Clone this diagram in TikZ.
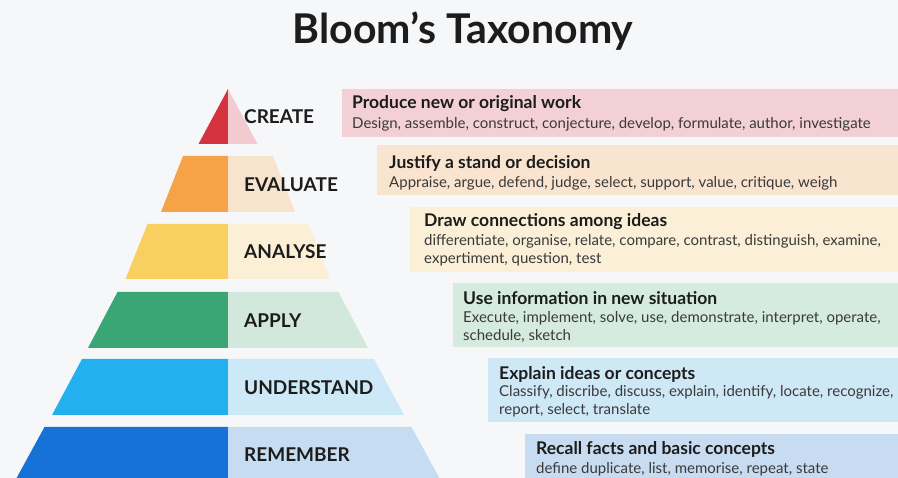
\documentclass[tikz,border=0pt]{standalone}
\usepackage{fontspec}
\setmainfont{Lato}
\definecolor{bg}{HTML}{F6F7F9}
\definecolor{txt}{HTML}{1C1C1C}
\definecolor{bodytxt}{HTML}{3A3A3A}
\definecolor{createD}{HTML}{D63341}\definecolor{createL}{HTML}{F2CBD1}
\definecolor{evalD}{HTML}{F6A347}\definecolor{evalL}{HTML}{F8E3CF}
\definecolor{anaD}{HTML}{F9CF5F}\definecolor{anaL}{HTML}{FBEFD6}
\definecolor{appD}{HTML}{3AA673}\definecolor{appL}{HTML}{D2E8DC}
\definecolor{undD}{HTML}{22B1EE}\definecolor{undL}{HTML}{CDE8F7}
\definecolor{remD}{HTML}{1772D7}\definecolor{remL}{HTML}{C6DCF1}
\definecolor{boxA}{HTML}{F2D0D5}\definecolor{boxB}{HTML}{F9E4CF}
\definecolor{boxC}{HTML}{FBEFD7}\definecolor{boxD}{HTML}{D5EBDF}
\definecolor{boxE}{HTML}{CFE8F6}\definecolor{boxF}{HTML}{C8DCF1}
\begin{document}
\begin{tikzpicture}[x=1pt,y=-1pt,
  level/.style={anchor=west,inner sep=0pt,text=txt,font=\fontsize{19}{22}\selectfont\bfseries},
  desc/.style={anchor=north west,inner sep=0pt,minimum height=#1,minimum width=600pt},
  head/.style={anchor=west,inner sep=0pt,text=txt,font=\fontsize{17.5}{20}\selectfont\bfseries},
  body/.style={anchor=north west,inner sep=0pt,text=bodytxt,align=left,font=\fontsize{15}{17.5}\selectfont}]
\fill[bg] (0,0) rectangle (898,478);
\useasboundingbox (0,0) rectangle (898,478);
\begin{scope}
\clip (0,0) rectangle (898,478);
% pyramid bands: #1 top y, #2 bottom y, #3 top half width, #4 bottom half width
\newcommand{\band}[6]{%
  \fill[#5] (228-#3,#1) -- (228,#1) -- (228,#2) -- (228-#4,#2) -- cycle;
  \fill[#6] (228,#1) -- (228+#3,#1) -- (228+#4,#2) -- (228,#2) -- cycle;}
\band{89}{144}{0}{29.5}{createD}{createL}
\band{156}{212}{45}{67}{evalD}{evalL}
\band{224}{279}{80.5}{102.5}{anaD}{anaL}
\band{292}{348}{110.5}{140}{appD}{appL}
\band{359}{415}{146}{176}{undD}{undL}
\band{427}{490}{183.5}{218}{remD}{remL}
% description boxes
\node[desc=48pt,fill=boxA] (bA) at (342,89) {};
\node[desc=50pt,fill=boxB] (bB) at (377,145) {};
\node[desc=65pt,fill=boxC] (bC) at (410,207) {};
\node[desc=64pt,fill=boxD] (bD) at (453,283) {};
\node[desc=64pt,fill=boxE] (bE) at (488,358) {};
\node[desc=60pt,fill=boxF] (bF) at (525,434) {};
\end{scope}
% title
\node[inner sep=0pt,text=txt,font=\fontsize{41}{46}\selectfont\bfseries] (title) at (463,31) {Bloom’s Taxonomy};
% level labels
\node[level] (lA) at (244,117) {CREATE};
\node[level] (lB) at (244,185) {EVALUATE};
\node[level] (lC) at (244,252) {ANALYSE};
\node[level] (lD) at (244,321) {APPLY};
\node[level] (lE) at (244,388) {UNDERSTAND};
\node[level] (lF) at (244,455) {REMEMBER};
% box texts
\node[head] (hA) at (352,104) {Produce new or original work};
\node[body] (tA) at (352,117.5) {Design, assemble, construct, conjecture, develop, formulate, author, investigate};
\node[head] (hB) at (389,163) {Justify a stand or decision};
\node[body] (tB) at (389,176.5) {Appraise, argue, defend, judge, select, support, value, critique, weigh};
\node[head] (hC) at (424,222) {Draw connections among ideas};
\node[body] (tC) at (424,234.5) {differentiate, organise, relate, compare, contrast, distinguish, examine,\\expertiment, question, test};
\node[head] (hD) at (463,298) {Use information in new situation};
\node[body] (tD) at (463,311.5) {Execute, implement, solve, use, demonstrate, interpret, operate,\\schedule, sketch};
\node[head] (hE) at (499,374) {Explain ideas or concepts};
\node[body] (tE) at (499,385.5) {Classify, discribe, discuss, explain, identify, locate, recognize,\\report, select, translate};
\node[head] (hF) at (536,449) {Recall facts and basic concepts};
\node[body] (tF) at (536,462.5) {define duplicate, list, memorise, repeat, state};
\end{tikzpicture}
\end{document}
